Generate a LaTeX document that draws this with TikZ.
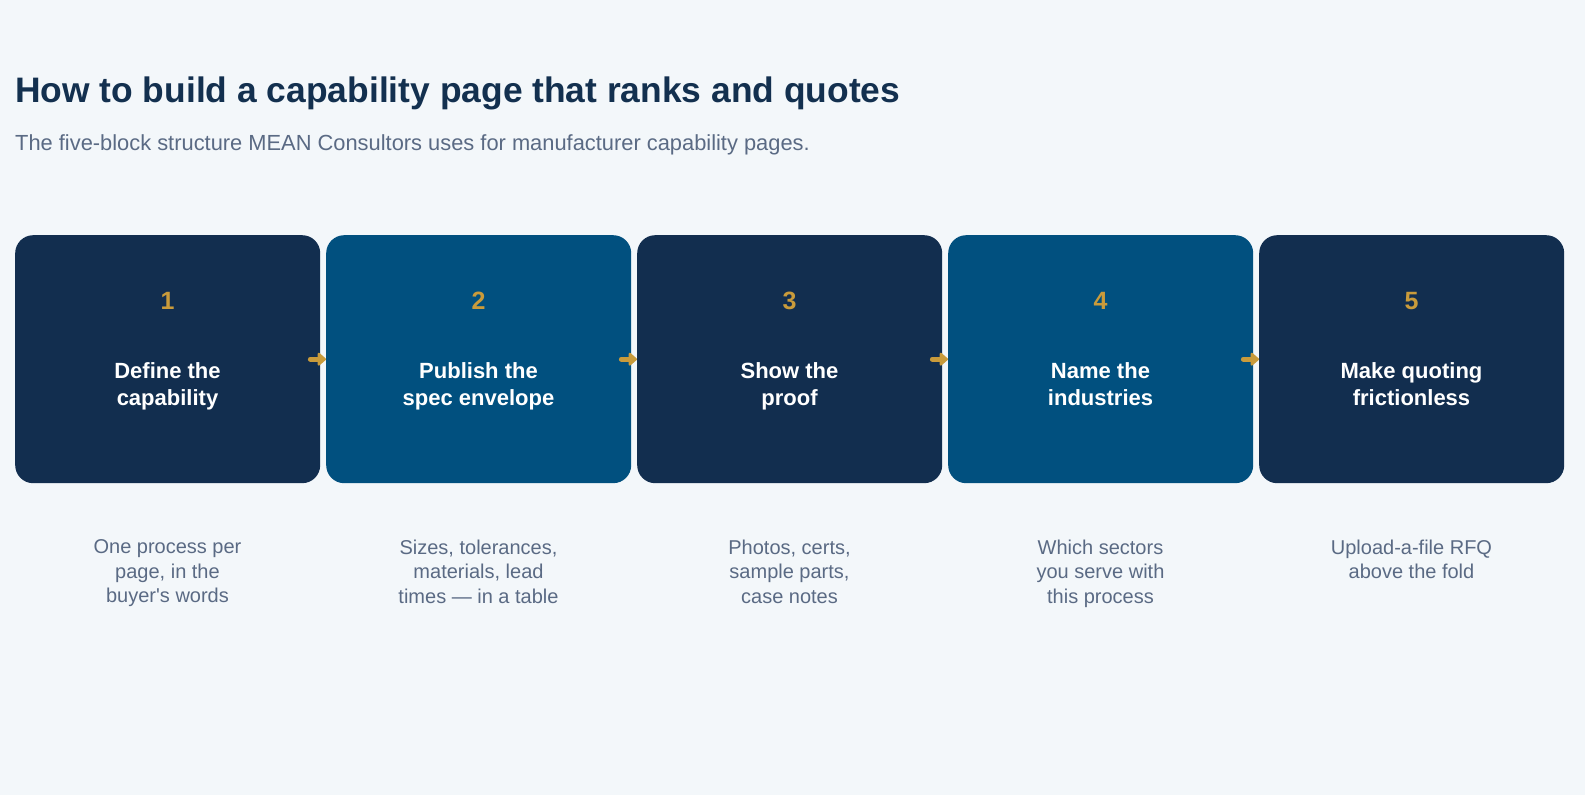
\documentclass[tikz,border=0pt]{standalone}
\usepackage{fontspec}
\setmainfont{Liberation Sans}
\usetikzlibrary{arrows.meta}
\definecolor{bgc}{HTML}{F3F7FA}
\definecolor{navy}{HTML}{122E4F}
\definecolor{steel}{HTML}{01507F}
\definecolor{gold}{HTML}{C99B3B}
\definecolor{titlec}{HTML}{13304F}
\definecolor{subc}{HTML}{5A6A84}
\tikzset{
  stepbox/.style={rounded corners=18pt, minimum width=305pt, minimum height=248pt, inner sep=0pt, anchor=north west, draw=none},
  numtext/.style={text=gold, font=\bfseries\fontsize{25}{28}\selectfont, anchor=base, inner sep=0pt},
  labtext/.style={text=white, font=\bfseries\fontsize{22}{27}\selectfont, align=center, anchor=north, inner sep=0pt},
  desctext/.style={text=subc, font=\fontsize{20}{24.5}\selectfont, align=center, anchor=north, inner sep=0pt},
  flowarrow/.style={draw=gold, line width=5pt, line cap=round, -{Triangle[length=9pt,width=15pt,round]}},
}
\begin{document}
\begin{tikzpicture}[x=1pt,y=-1pt]
\fill[bgc] (0,0) rectangle (1585,795);
\useasboundingbox (0,0) rectangle (1585,795);
\node[anchor=base west, inner sep=0pt, text=titlec, font=\bfseries\fontsize{35.4}{40}\selectfont] (title) at (15,102) {How to build a capability page that ranks and quotes};
\node[anchor=base west, inner sep=0pt, text=subc, font=\fontsize{21.86}{26}\selectfont] (subtitle) at (15,150) {The five-block structure MEAN Consultors uses for manufacturer capability pages.};
\foreach \i/\col/\lab/\desc in {
  1/navy/{Define the\\capability}/{One process per\\page, in the\\buyer\textquotesingle s words},
  2/steel/{Publish the\\spec envelope}/{Sizes, tolerances,\\materials, lead\\times — in a table},
  3/navy/{Show the\\proof}/{Photos, certs,\\sample parts,\\case notes},
  4/steel/{Name the\\industries}/{Which sectors\\you serve with\\this process},
  5/navy/{Make quoting\\frictionless}/{Upload-a-file RFQ\\above the fold}}{
  \pgfmathsetmacro{\bx}{15+311*(\i-1)}
  \pgfmathsetmacro{\cx}{\bx+152.5}
  \node[stepbox, fill=\col] (b\i) at (\bx,235) {};
  \node[numtext] (n\i) at (\cx,309) {\i};
  \node[labtext] (l\i) at (\cx,362) {\lab};
  \node[desctext] (d\i) at (\cx,539.5) {\desc};
}
\foreach \i in {1,...,4}{
  \pgfmathtruncatemacro{\j}{\i+1}
  \draw[flowarrow] ([xshift=-10pt]b\i.east) -- (b\j.west);
}
\end{tikzpicture}
\end{document}
